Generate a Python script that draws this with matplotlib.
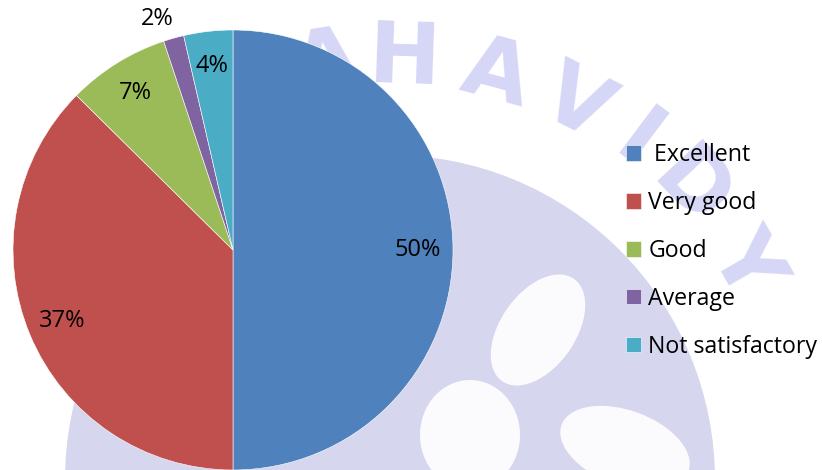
"""Pie chart of feedback ratings with legend on the right."""

import matplotlib.pyplot as plt
import numpy as np
from matplotlib.patches import Circle, Ellipse

categories = [" Excellent", "Very good", "Good", "Average", "Not satisfactory"]
shares = [50.0, 37.4, 7.5, 1.5, 3.6]
share_labels = ["50%", "37%", "7%", "2%", "4%"]
colors = ["#4F81BD", "#C0504D", "#9BBB59", "#8064A2", "#4BACC6"]

# faint college-logo watermark behind the chart
watermark_letters = "MAHAVIDY"
watermark_angles = [112, 99, 88, 75, 63, 53, 43, 30]

plt.rcParams["font.family"] = ["Open Sans", "DejaVu Sans"]


def main() -> None:
    figure = plt.figure(figsize=(8.22, 4.70), dpi=100)

    background = figure.add_axes([0, 0, 1, 1], zorder=0)
    background.set_xlim(0, 822)
    background.set_ylim(470, 0)
    background.axis("off")
    logo_x, logo_y = 390, 480
    background.add_patch(Circle((logo_x, logo_y), 325, color="#d6d6ee", lw=0))
    for (x, y, w, h, tilt) in [(538, 330, 75, 125, 35), (625, 448, 135, 75, 20), (470, 435, 100, 110, 0)]:
        background.add_patch(Ellipse((x, y), w, h, angle=tilt, color="#fbfbfe", lw=0))
    for letter, angle in zip(watermark_letters, watermark_angles):
        theta = np.radians(angle)
        background.text(logo_x + 410 * np.cos(theta), logo_y - 10 - 410 * np.sin(theta), letter,
                        rotation=angle - 90, ha="center", va="center", fontsize=62,
                        fontweight="heavy", color="#d6d6f6", family="DejaVu Sans")

    axis = figure.add_axes([13 / 822, 0, 440 / 822, 440 / 470], zorder=1)
    wedges, _ = axis.pie(shares, colors=colors, startangle=90, counterclock=False,
                         radius=1, wedgeprops=dict(edgecolor="white", linewidth=0.4))
    axis.set_xlim(-1, 1)
    axis.set_ylim(-1, 1)
    axis.set_aspect("equal")

    for wedge, text in zip(wedges, share_labels):
        middle = np.radians((wedge.theta1 + wedge.theta2) / 2)
        outside = text == "2%"
        distance = 1.09 if outside else 0.84
        axis.text(distance * np.cos(middle) - (0.05 if outside else 0), distance * np.sin(middle),
                  text, ha="center", va="center", fontsize=17, color="black")

    figure.legend(wedges, categories, loc="center left", bbox_to_anchor=(617 / 822, 1 - 251 / 470),
                  frameon=False, fontsize=16.7, handlelength=0.65, handleheight=0.65,
                  handletextpad=0.3, labelspacing=1.03, borderaxespad=0)

    figure.savefig("out.png", dpi=100)


if __name__ == "__main__":
    main()
